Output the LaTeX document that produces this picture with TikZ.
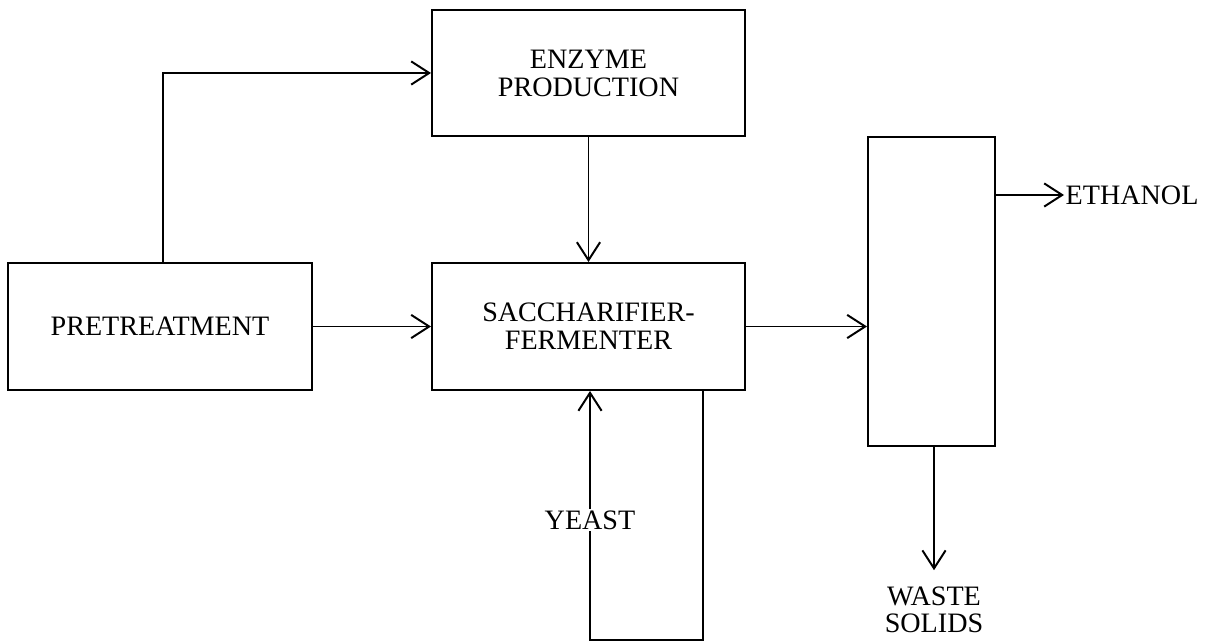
\documentclass[tikz,border=0pt]{standalone}
\usepackage{fontspec}
\setmainfont{Liberation Serif}
\usetikzlibrary{arrows.meta,calc,positioning}

\tikzset{
  unit/.style={draw, line width=1.4pt, align=center, inner sep=0pt,
    font=\fontsize{20}{20}\selectfont},
  flow/.style={line width=1.4pt, -{Straight Barb[length=0.45cm,width=0.58cm,line width=1.4pt]}},
  pipe/.style={line width=1.4pt},
  tag/.style={align=center, inner sep=1pt, font=\fontsize{20}{19.5}\selectfont}
}

\begin{document}
\begin{tikzpicture}
\useasboundingbox (0,0) rectangle (30.2,16.075);

\node[unit, minimum width=7.6cm, minimum height=3.175cm] (pre) at (4.0,7.9125) {PRETREATMENT};
\node[unit, minimum width=7.825cm, minimum height=3.15cm] (enz) at (14.7125,14.25) {ENZYME\\PRODUCTION};
\node[unit, minimum width=7.825cm, minimum height=3.175cm] (sac) at (14.7125,7.9125) {SACCHARIFIER-\\FERMENTER};
\node[unit, minimum width=3.175cm, minimum height=7.725cm] (col) at (23.2875,8.7875) {};

\node[tag, anchor=west] (eth) at (26.6,11.2) {ETHANOL};
\node[tag, anchor=north, inner sep=0pt] (waste) at (23.35,1.42) {WASTE\\SOLIDS};
\node[tag] (yeast) at (14.75,3.075) {YEAST};

\coordinate (bl) at (14.75,0.075);
\coordinate (br) at (17.575,0.075);

\draw[flow] ($(pre.north)+(0.075,0)$) |- (enz.west);
\draw[flow] (enz) -- (sac);
\draw[flow] (pre) -- (sac);
\draw[flow] (sac.east) -- (sac.east -| col.west);
\draw[flow] (col.east |- eth.west) -- (eth.west);
\draw[flow] (col.south -| waste.north) -- ($(waste.north)+(0,0.4)$);

\draw[pipe] (sac.south -| br) -- (br) -- (bl) -- (yeast.south);
\draw[flow] (yeast.north) -- (sac.south -| bl);
\end{tikzpicture}
\end{document}
